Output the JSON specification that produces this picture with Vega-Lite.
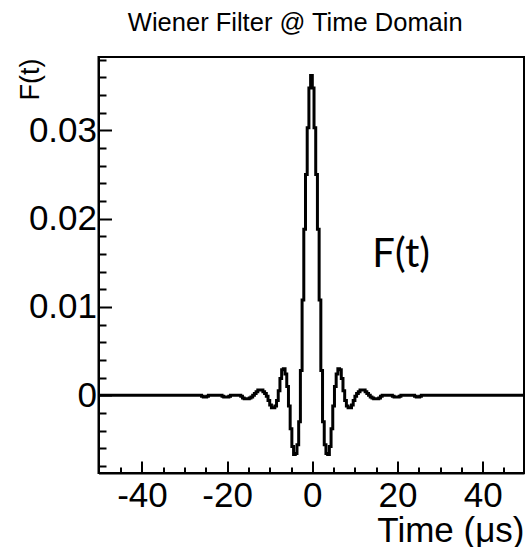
{
  "$schema": "https://vega.github.io/schema/vega-lite/v6.json",
  "autosize": {"type": "none"},
  "width": 425.5,
  "height": 416,
  "padding": {"left": 98.5, "top": 57, "right": 1, "bottom": 74},
  "background": "white",
  "config": {
    "view": {"stroke": "black", "strokeWidth": 2},
    "axis": {"grid": false, "domainColor": "black", "domainWidth": 2, "tickColor": "black", "tickWidth": 2, "labelColor": "black", "labelFont": "Liberation Sans", "titleFont": "Liberation Sans", "titleColor": "black", "titleFontWeight": "normal", "labelOverlap": false, "labelFlush": false}
  },
  "title": {"text": "Wiener Filter @ Time Domain", "font": "Liberation Sans", "fontSize": 25.5, "fontWeight": "normal", "color": "black", "frame": "group", "anchor": "middle", "dx": -16, "offset": 1, "baseline": "alphabetic"},
  "data": {"values": [
    {"t": -50.2, "v": 0},
    {"t": -26.2, "v": 0},
    {"t": -25.8, "v": -0.0001},
    {"t": -25.4, "v": -0.0002},
    {"t": -25.0, "v": -0.0002},
    {"t": -24.6, "v": -0.0001},
    {"t": -24.2, "v": 0},
    {"t": -21.4, "v": 0},
    {"t": -21.0, "v": -0.0001},
    {"t": -20.6, "v": -0.0002},
    {"t": -20.2, "v": -0.0002},
    {"t": -19.8, "v": -0.0002},
    {"t": -19.4, "v": -0.0001},
    {"t": -19.0, "v": 0},
    {"t": -17.0, "v": 0},
    {"t": -16.6, "v": -0.0001},
    {"t": -16.2, "v": -0.0003},
    {"t": -15.8, "v": -0.0004},
    {"t": -15.4, "v": -0.0004},
    {"t": -15.0, "v": -0.0004},
    {"t": -14.6, "v": -0.0003},
    {"t": -14.2, "v": -0.0002},
    {"t": -13.8, "v": 0},
    {"t": -13.4, "v": 0.0002},
    {"t": -13.0, "v": 0.0004},
    {"t": -12.6, "v": 0.0006},
    {"t": -12.2, "v": 0.0006},
    {"t": -11.8, "v": 0.0006},
    {"t": -11.4, "v": 0.0004},
    {"t": -11.0, "v": 0.0002},
    {"t": -10.6, "v": -0.0001},
    {"t": -10.2, "v": -0.0006},
    {"t": -9.8, "v": -0.0011},
    {"t": -9.4, "v": -0.0014},
    {"t": -9.0, "v": -0.0014},
    {"t": -8.6, "v": -0.0012},
    {"t": -8.2, "v": -0.0006},
    {"t": -7.8, "v": 0.0005},
    {"t": -7.4, "v": 0.0019},
    {"t": -7.0, "v": 0.0029},
    {"t": -6.6, "v": 0.0030},
    {"t": -6.2, "v": 0.0024},
    {"t": -5.8, "v": 0.0010},
    {"t": -5.4, "v": -0.0012},
    {"t": -5.0, "v": -0.0038},
    {"t": -4.6, "v": -0.0058},
    {"t": -4.2, "v": -0.0067},
    {"t": -3.8, "v": -0.0066},
    {"t": -3.4, "v": -0.0056},
    {"t": -3.0, "v": -0.0030},
    {"t": -2.6, "v": 0.0028},
    {"t": -2.2, "v": 0.0108},
    {"t": -1.8, "v": 0.0188},
    {"t": -1.4, "v": 0.0250},
    {"t": -1.0, "v": 0.0303},
    {"t": -0.6, "v": 0.0348},
    {"t": -0.2, "v": 0.0362},
    {"t": 0.2, "v": 0.0348},
    {"t": 0.6, "v": 0.0303},
    {"t": 1.0, "v": 0.0250},
    {"t": 1.4, "v": 0.0188},
    {"t": 1.8, "v": 0.0108},
    {"t": 2.2, "v": 0.0028},
    {"t": 2.6, "v": -0.0030},
    {"t": 3.0, "v": -0.0056},
    {"t": 3.4, "v": -0.0066},
    {"t": 3.8, "v": -0.0067},
    {"t": 4.2, "v": -0.0058},
    {"t": 4.6, "v": -0.0038},
    {"t": 5.0, "v": -0.0012},
    {"t": 5.4, "v": 0.0010},
    {"t": 5.8, "v": 0.0024},
    {"t": 6.2, "v": 0.0030},
    {"t": 6.6, "v": 0.0029},
    {"t": 7.0, "v": 0.0019},
    {"t": 7.4, "v": 0.0005},
    {"t": 7.8, "v": -0.0006},
    {"t": 8.2, "v": -0.0012},
    {"t": 8.6, "v": -0.0014},
    {"t": 9.0, "v": -0.0014},
    {"t": 9.4, "v": -0.0011},
    {"t": 9.8, "v": -0.0006},
    {"t": 10.2, "v": -0.0001},
    {"t": 10.6, "v": 0.0002},
    {"t": 11.0, "v": 0.0004},
    {"t": 11.4, "v": 0.0006},
    {"t": 11.8, "v": 0.0006},
    {"t": 12.2, "v": 0.0006},
    {"t": 12.6, "v": 0.0004},
    {"t": 13.0, "v": 0.0002},
    {"t": 13.4, "v": 0},
    {"t": 13.8, "v": -0.0002},
    {"t": 14.2, "v": -0.0003},
    {"t": 14.6, "v": -0.0004},
    {"t": 15.0, "v": -0.0004},
    {"t": 15.4, "v": -0.0004},
    {"t": 15.8, "v": -0.0003},
    {"t": 16.2, "v": -0.0001},
    {"t": 16.6, "v": 0},
    {"t": 18.6, "v": 0},
    {"t": 19.0, "v": -0.0001},
    {"t": 19.4, "v": -0.0002},
    {"t": 19.8, "v": -0.0002},
    {"t": 20.2, "v": -0.0002},
    {"t": 20.6, "v": -0.0001},
    {"t": 21.0, "v": 0},
    {"t": 23.8, "v": 0},
    {"t": 24.2, "v": -0.0001},
    {"t": 24.6, "v": -0.0002},
    {"t": 25.0, "v": -0.0002},
    {"t": 25.4, "v": -0.0001},
    {"t": 25.8, "v": 0},
    {"t": 49.7, "v": 0}
  ]},
  "resolve": {"axis": {"x": "independent", "y": "independent"}},
  "layer": [
    {
      "mark": {"type": "line", "color": "black", "strokeWidth": 3, "interpolate": "step"},
      "encoding": {
        "x": {"field": "t", "type": "quantitative", "scale": {"domain": [-50.2, 49.7], "nice": false, "zero": false},
          "axis": {"orient": "bottom", "values": [-40, -20, 0, 20, 40], "labelExpr": "toString(datum.value)", "tickSize": -12, "labelFontSize": 35, "labelPadding": 45, "labelBaseline": "alphabetic", "title": "Time (μs)", "titleFontSize": 35, "titleAnchor": "end", "titleAlign": "right", "titleX": 425.5, "titleY": 68, "titleBaseline": "alphabetic"}},
        "y": {"field": "v", "type": "quantitative", "scale": {"domain": [-0.0088, 0.0383], "nice": false, "zero": false},
          "axis": {"orient": "left", "values": [0, 0.01, 0.02, 0.03], "format": "~g", "tickSize": -13, "labelFontSize": 35, "labelPadding": 15, "labelBaseline": "middle", "title": "F(t)", "titleFontSize": 27, "titleAngle": 270, "titleAlign": "right", "titleBaseline": "alphabetic", "titleX": -60.2, "titleY": 1}}
      }
    },
    {
      "data": {"values": [{"label": "F(t)"}]},
      "mark": {"type": "text", "font": "Lato", "fontSize": 40, "color": "black", "align": "left", "baseline": "alphabetic"},
      "encoding": {
        "x": {"datum": 14.1, "type": "quantitative", "scale": {"domain": [-50.2, 49.7], "nice": false, "zero": false},
          "axis": {"orient": "bottom", "values": [-45, -35, -30, -25, -15, -10, -5, 5, 10, 15, 25, 30, 35, 45], "tickSize": -6, "labels": false, "domain": false, "title": null}},
        "y": {"datum": 0.01455, "type": "quantitative", "scale": {"domain": [-0.0088, 0.0383], "nice": false, "zero": false},
          "axis": {"orient": "left", "values": [-0.008, -0.006, -0.004, -0.002, 0.002, 0.004, 0.006, 0.008, 0.012, 0.014, 0.016, 0.018, 0.022, 0.024, 0.026, 0.028, 0.032, 0.034, 0.036, 0.038], "tickSize": -7.5, "labels": false, "domain": false, "title": null}},
        "text": {"field": "label", "type": "nominal"}
      }
    }
  ]
}
